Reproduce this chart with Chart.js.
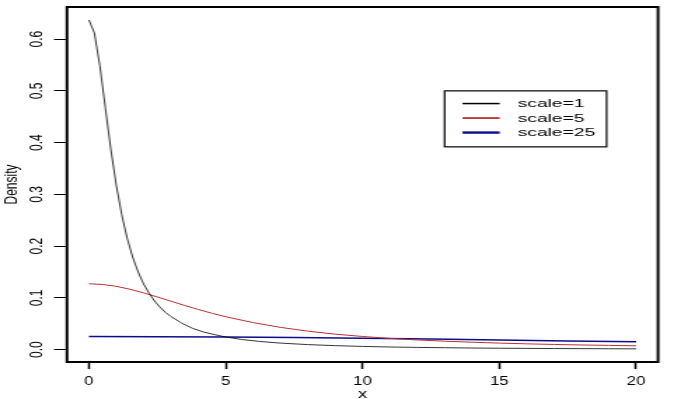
<!DOCTYPE html>
<html><head><meta charset="utf-8">
<script src="https://cdn.jsdelivr.net/npm/chart.js@4.4.1/dist/chart.umd.min.js"></script>
<style>
html,body{margin:0;padding:0;background:#fff;overflow:hidden}
#c{display:block;width:681px;height:399px}
</style>
</head><body>
<canvas id="c" width="486" height="399" style="width:681px;height:399px"></canvas>
<script>
// ---- data ----
const seriesLabels = ['scale=1', 'scale=5', 'scale=25'];
const seriesColors = ['#000000', '#b8302f', '#0d0d8c'];

const xScale1 = [0,0.2,0.4,0.6,0.8,1,1.2,1.4,1.6,1.8,2,2.2,2.4,2.6,2.8,3,3.4,3.8,4.2,4.6,5,5.6,6.2,7,8,9,10,11,12,13,14,15,16,17,18,19,20];
const yScale1 = [0.637,0.612,0.549,0.468,0.388,0.318,0.261,0.215,0.179,0.150,0.127,0.109,0.094,0.082,0.072,0.064,0.051,0.041,0.034,0.029,0.0245,0.0196,0.0161,0.0127,0.0098,0.0078,0.0063,0.0052,0.0044,0.0038,0.0032,0.0028,0.0025,0.0022,0.0020,0.0018,0.0016];

const xScale5 = [0,0.5,1,1.5,2,2.5,3,3.5,4,4.5,5,6,7,8,9,10,11,12,13,14,15,16,17,18,19,20];
const yScale5 = [0.1273,0.1260,0.1224,0.1168,0.1097,0.1018,0.0936,0.0854,0.0776,0.0703,0.0637,0.0523,0.0431,0.0358,0.0300,0.0255,0.0218,0.0188,0.0164,0.0144,0.0127,0.0113,0.0101,0.0091,0.0083,0.0075];

const xScale25 = [0,2.5,5,7.5,10,12.5,15,17.5,20];
const yScale25 = [0.0255,0.0252,0.0245,0.0234,0.0220,0.0204,0.0187,0.0170,0.0155];

const xTicks = [0, 5, 10, 15, 20];
const yTicks = [0, 0.1, 0.2, 0.3, 0.4, 0.5, 0.6];
const xAxisTitle = 'x';
const yAxisTitle = 'Density';
const legendAnchor = {x: 13, y: 0.5};

// ---- build ----
function pts(xs, ys){ return xs.map((x,i)=>({x:x, y:ys[i]})); }
const seriesX = [xScale1, xScale5, xScale25];
const seriesY = [yScale1, yScale5, yScale25];
const lineWidths = [0.8, 1, 1.5];
const legendLineWidths = [1.5, 1.8, 2.4];

Chart.defaults.font.family = '"Liberation Sans", Arial, sans-serif';
Chart.defaults.color = '#000';

const framePlugin = {
  id: 'frame',
  afterDatasetsDraw(chart){
    const a = chart.chartArea, ctx = chart.ctx;
    ctx.save();
    ctx.strokeStyle = '#000';
    ctx.lineWidth = 2;
    ctx.strokeRect(a.left, a.top, a.right - a.left, a.bottom - a.top);
    ctx.restore();
  }
};

const boxLegendPlugin = {
  id: 'boxLegend',
  afterDraw(chart){
    const ctx = chart.ctx;
    const xs = chart.scales.x, ys = chart.scales.y;
    const left = xs.getPixelForValue(legendAnchor.x);
    const top = ys.getPixelForValue(legendAnchor.y);
    const w = 115.6, h = 56;
    ctx.save();
    ctx.fillStyle = '#fff';
    ctx.fillRect(left, top, w, h);
    ctx.strokeStyle = '#000';
    ctx.lineWidth = 1.2;
    ctx.strokeRect(left, top, w, h);
    const rows = [12.7, 27.2, 41.7];
    chart.data.datasets.forEach((ds, i) => {
      const y = top + rows[i];
      ctx.strokeStyle = ds.borderColor;
      ctx.lineWidth = legendLineWidths[i];
      ctx.beginPath();
      ctx.moveTo(left + 12.8, y);
      ctx.lineTo(left + 39.3, y);
      ctx.stroke();
      ctx.save();
      ctx.translate(left + 52.1, y);
      ctx.scale(1.25, 1);
      ctx.fillStyle = '#000';
      ctx.font = '11px "Liberation Sans", Arial, sans-serif';
      ctx.textBaseline = 'middle';
      ctx.textAlign = 'left';
      ctx.fillText(ds.label, 0, 0.5);
      ctx.restore();
    });
    ctx.restore();
  }
};

new Chart(document.getElementById('c'), {
  type: 'line',
  data: {
    datasets: seriesLabels.map((lab, i) => ({
      label: lab,
      data: pts(seriesX[i], seriesY[i]),
      borderColor: seriesColors[i],
      backgroundColor: seriesColors[i],
      borderWidth: lineWidths[i],
      pointRadius: 0,
      tension: 0,
      fill: false
    }))
  },
  options: {
    responsive: false,
    devicePixelRatio: 1,
    animation: false,
    events: [],
    layout: {padding: {left: 0, top: 7, right: 16.4, bottom: 0}},
    plugins: {legend: {display: false}, tooltip: {enabled: false}},
    scales: {
      x: {
        type: 'linear', min: -0.8, max: 20.8,
        afterBuildTicks: s => { s.ticks = xTicks.map(v => ({value: v})); },
        afterFit: s => { s.height = 37; s.paddingLeft = 0; s.paddingRight = 0; },
        grid: {display: true, drawOnChartArea: false, drawTicks: true, tickLength: 7, tickColor: '#000', tickWidth: 1.5},
        border: {display: false},
        ticks: {autoSkip: false, minRotation: 0, maxRotation: 0, padding: 5.5, color: '#000', font: {size: 12}, callback: v => String(v)},
        title: {display: true, text: xAxisTitle, color: '#000', font: {size: 13, lineHeight: 1}, padding: {top: 0, bottom: -2}}
      },
      y: {
        type: 'linear', min: -0.0238, max: 0.662,
        afterBuildTicks: s => { s.ticks = yTicks.map(v => ({value: v})); },
        afterFit: s => { s.width = 47.8; s.paddingTop = 0; s.paddingBottom = 0; },
        grid: {display: true, drawOnChartArea: false, drawTicks: true, tickLength: 9.3, tickColor: '#000', tickWidth: 1},
        border: {display: false},
        ticks: {autoSkip: false, minRotation: 90, maxRotation: 90, crossAlign: 'center', padding: 3, color: '#000', font: {size: 12}, callback: v => v.toFixed(1)},
        title: {display: true, text: yAxisTitle, color: '#000', font: {size: 12}, padding: {top: 1.5, bottom: 0}}
      }
    }
  },
  plugins: [framePlugin, boxLegendPlugin]
});
</script>
</body></html>
